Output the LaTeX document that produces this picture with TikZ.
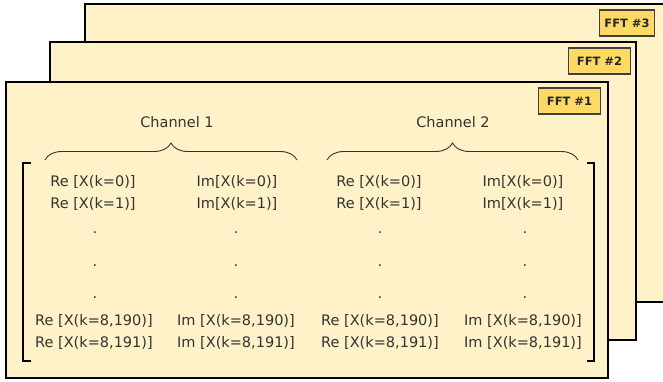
\documentclass[tikz,border=0pt]{standalone}
\usepackage{fontspec}
\setmainfont{DejaVu Sans}
\usetikzlibrary{decorations.pathreplacing}
\definecolor{paper}{HTML}{FFF2C8}
\definecolor{tag}{HTML}{FFD966}
\definecolor{ink}{HTML}{333333}
\tikzset{
  frame/.style={draw=black, line width=2.2pt, fill=paper},
  fftlabel/.style={draw=black!75, line width=1.1pt, fill=tag, font=\fontsize{11.5}{13}\selectfont\bfseries, text=black!85, inner sep=0pt},
  cell/.style={font=\fontsize{14.5}{16}\selectfont, text=ink, inner sep=0pt, anchor=center},
  chan/.style={font=\fontsize{14.5}{16}\selectfont, text=ink, inner sep=0pt},
  chbrace/.style={draw=ink, line width=0.9pt, decorate, decoration={brace, amplitude=17pt}},
  bracket/.style={draw=black, line width=2.2pt}
}
\begin{document}
\begin{tikzpicture}[x=1pt,y=-1pt]
\useasboundingbox (0,0) rectangle (663,382);
% frames
\path[frame] (85,4) rectangle (680,302);
\path[frame] (50,42) rectangle (636,340);
\path[frame] (6,82) rectangle (608,378);
% labels
\node[fftlabel, minimum width=55pt, minimum height=26pt] (f3) at (627,23) {FFT \#3};
\node[fftlabel, minimum width=62pt, minimum height=26pt] (f2) at (599.5,61) {FFT \#2};
\node[fftlabel, minimum width=62pt, minimum height=26pt] (f1) at (569.5,101) {FFT \#1};
% channel titles
\node[chan] (c1) at (177,122) {Channel 1};
\node[chan] (c2) at (453,122) {Channel 2};
% braces
\coordinate (b1l) at (45,160);
\coordinate (b1r) at (297,160);
\coordinate (b2l) at (327,160);
\coordinate (b2r) at (578,160);
\draw[chbrace] (b1l) -- (b1r);
\draw[chbrace] (b2l) -- (b2r);
% brackets
\coordinate (lt) at (31,163); \coordinate (lb) at (31,361);
\coordinate (rt) at (587,163); \coordinate (rb) at (587,361);
\draw[bracket] (lt) -- (23,163) -- (23,361) -- (lb);
\draw[bracket] (rt) -- (594,163) -- (594,361) -- (rb);
% cells
\node[cell] (a1) at (93,182) {Re [X(k=0)]};
\node[cell] (a2) at (93,204) {Re [X(k=1)]};
\node[cell] (a3) at (95,233) {.};
\node[cell] (a4) at (95,266) {.};
\node[cell] (a5) at (95,298) {.};
\node[cell] (a6) at (94,321) {Re [X(k=8,190)]};
\node[cell] (a7) at (94,343) {Re [X(k=8,191)]};
\node[cell] (b1) at (237,182) {Im[X(k=0)]};
\node[cell] (b2) at (237,204) {Im[X(k=1)]};
\node[cell] (b3) at (236,233) {.};
\node[cell] (b4) at (236,266) {.};
\node[cell] (b5) at (236,298) {.};
\node[cell] (b6) at (236,321) {Im [X(k=8,190)]};
\node[cell] (b7) at (236,343) {Im [X(k=8,191)]};
\node[cell] (d1) at (379,182) {Re [X(k=0)]};
\node[cell] (d2) at (379,204) {Re [X(k=1)]};
\node[cell] (d3) at (380,233) {.};
\node[cell] (d4) at (380,266) {.};
\node[cell] (d5) at (380,298) {.};
\node[cell] (d6) at (380,321) {Re [X(k=8,190)]};
\node[cell] (d7) at (380,343) {Re [X(k=8,191)]};
\node[cell] (e1) at (523,182) {Im[X(k=0)]};
\node[cell] (e2) at (523,204) {Im[X(k=1)]};
\node[cell] (e3) at (525,233) {.};
\node[cell] (e4) at (525,266) {.};
\node[cell] (e5) at (525,298) {.};
\node[cell] (e6) at (523,321) {Im [X(k=8,190)]};
\node[cell] (e7) at (523,343) {Im [X(k=8,191)]};
\end{tikzpicture}
\end{document}
